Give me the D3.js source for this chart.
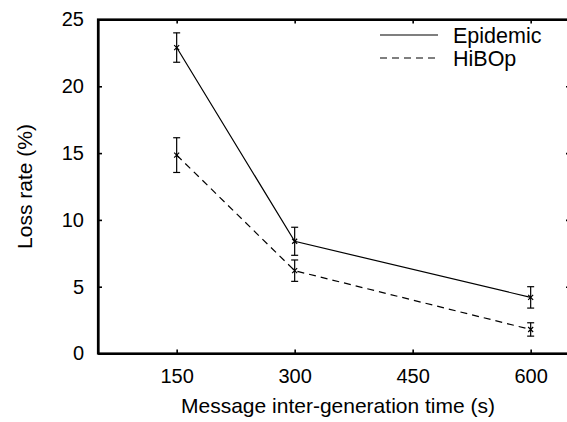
<!DOCTYPE html>
<html><head><meta charset="utf-8">
<script src="https://cdn.jsdelivr.net/npm/d3@7"></script>
<style>
html,body{margin:0;padding:0;background:#fff;}
svg{display:block;}
text{font-family:"Liberation Sans",Arial,Helvetica,sans-serif;fill:#000;}
</style></head>
<body><svg id="c" width="567" height="422"></svg>
<script>
// Data
const xValues = [150, 300, 600];
const seriesNames = ["Epidemic", "HiBOp"];
const epidemicMean = [22.9, 8.4, 4.2];
const epidemicErr  = [1.1, 1.05, 0.8];
const hibopMean    = [14.85, 6.2, 1.8];
const hibopErr     = [1.3, 0.8, 0.5];
const xTicks = [150, 300, 450, 600];
const yTicks = [0, 5, 10, 15, 20, 25];
const xLabel = "Message inter-generation time (s)";
const yLabel = "Loss rate (%)";

const series = [
  {name: seriesNames[0], mean: epidemicMean, err: epidemicErr, dash: null},
  {name: seriesNames[1], mean: hibopMean, err: hibopErr, dash: "7,5"}
];

const svg = d3.select("#c");
const L = 98, R = 570, T = 19.5, B = 353.5;
const x = d3.scaleLinear().domain([50, 650]).range([L, R]);
const y = d3.scaleLinear().domain([0, 25]).range([B, T]);
const FS = 20, LFS = 21;

const gB = svg.append("g").attr("transform", `translate(0,${B})`)
  .call(d3.axisBottom(x).tickValues(xTicks).tickSizeInner(-4).tickSizeOuter(0).tickPadding(15).tickFormat(d3.format("d")));
const gT = svg.append("g").attr("transform", `translate(0,${T})`)
  .call(d3.axisTop(x).tickValues(xTicks).tickSizeInner(-4).tickSizeOuter(0).tickFormat(""));
const gL = svg.append("g").attr("transform", `translate(${L},0)`)
  .call(d3.axisLeft(y).tickValues(yTicks).tickSizeInner(-4).tickSizeOuter(0).tickPadding(14).tickFormat(d3.format("d")));
const gR = svg.append("g").attr("transform", `translate(${R},0)`)
  .call(d3.axisRight(y).tickValues(yTicks).tickSizeInner(-4).tickSizeOuter(0).tickFormat(""));

[gB, gT, gL, gR].forEach(g => {
  g.select(".domain").attr("stroke", "#000").attr("stroke-width", 2.2);
  g.selectAll(".tick line").attr("stroke", "#000").attr("stroke-width", 1.6);
  g.selectAll(".tick text").attr("font-size", FS).attr("font-family", '"Liberation Sans",Arial,sans-serif').attr("fill", "#000");
});
svg.append("rect").attr("x", L).attr("y", T).attr("width", R - L).attr("height", B - T)
  .attr("fill", "none").attr("stroke", "#000").attr("stroke-width", 2.2);

svg.append("text").attr("x", 338).attr("y", 413).attr("text-anchor", "middle")
  .attr("font-size", LFS).text(xLabel);
svg.append("text").attr("transform", `translate(32,${(T + B) / 2}) rotate(-90)`)
  .attr("text-anchor", "middle").attr("font-size", LFS).text(yLabel);

const line = d3.line().x((d, i) => x(xValues[i])).y(d => y(d));
series.forEach(s => {
  svg.append("path").datum(s.mean).attr("d", line).attr("fill", "none")
    .attr("stroke", "#000").attr("stroke-width", 1.2)
    .attr("stroke-dasharray", s.dash);
  const g = svg.append("g");
  s.mean.forEach((m, i) => {
    const cx = x(xValues[i]);
    const hi = y(m + s.err[i]), lo = y(m - s.err[i]);
    g.append("line").attr("x1", cx).attr("x2", cx).attr("y1", hi).attr("y2", lo).attr("stroke", "#000").attr("stroke-width", 1.2);
    [hi, lo].forEach(v => g.append("line").attr("x1", cx - 3.5).attr("x2", cx + 3.5).attr("y1", v).attr("y2", v).attr("stroke", "#000").attr("stroke-width", 1.2));
    const cy = y(m), r = 2.5;
    g.append("path").attr("d", `M${cx - r},${cy - r}L${cx + r},${cy + r}M${cx - r},${cy + r}L${cx + r},${cy - r}`)
      .attr("stroke", "#000").attr("stroke-width", 1.2);
  });
});

const legY = [35, 58];
series.forEach((s, i) => {
  svg.append("line").attr("x1", 380).attr("x2", 438).attr("y1", legY[i]).attr("y2", legY[i])
    .attr("stroke", "#000").attr("stroke-width", 1.2).attr("stroke-dasharray", s.dash);
  svg.append("text").attr("x", 453).attr("y", legY[i] + 7.5).attr("font-size", 21.5).text(s.name);
});
</script></body></html>
